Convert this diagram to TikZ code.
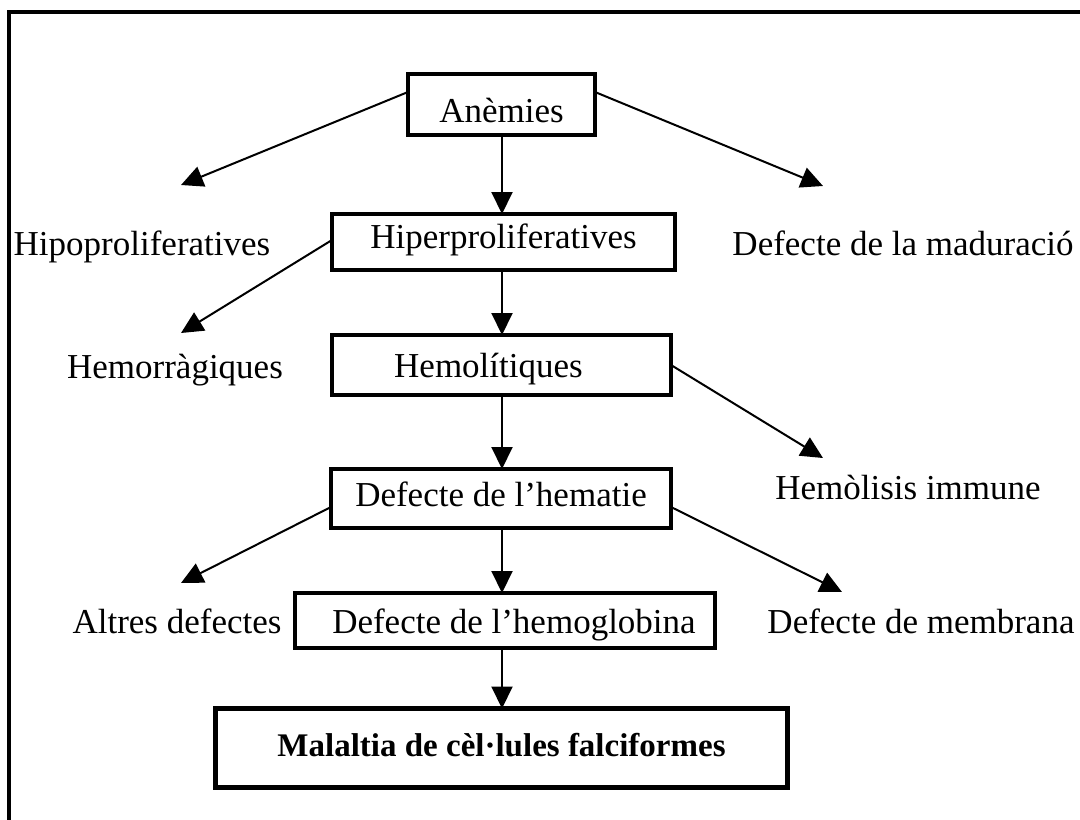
\documentclass[tikz,border=0pt]{standalone}
\usepackage{fontspec}
\setmainfont{Liberation Serif}
\usetikzlibrary{arrows.meta}

\tikzset{
  box/.style={draw, line width=4pt, inner sep=0pt, outer sep=0pt, align=center,
              text height=25pt, text depth=10pt,
              font=\fontsize{35}{40}\selectfont},
  plain/.style={anchor=base, inner sep=0pt, font=\fontsize{35}{40}\selectfont},
  link/.style={line width=2pt, -{Triangle[length=22pt, width=21pt]}},
  frame/.style={line width=4pt}
}

\begin{document}
\begin{tikzpicture}[x=1pt, y=-1pt]
  \useasboundingbox (0,0) rectangle (1080,820);
  \clip (0,0) rectangle (1080,820);

  % open frame: left and top sides only
  \coordinate (fbl) at (9,830);
  \coordinate (ftl) at (9,12);
  \coordinate (ftr) at (1090,12);
  \draw[frame] (fbl) -- (ftl) -- (ftr);

  % boxes of the main chain
  \node[box, minimum width=187pt, minimum height=61pt, text height=35pt, text depth=0pt]
    (anem) at (501.5,104.5) {Anèmies};
  \node[box, minimum width=343pt, minimum height=56pt, text height=22pt, text depth=10pt]
    (hiper) at (503.5,242) {Hiperproliferatives};
  \node[box, minimum width=339pt, minimum height=60pt, text height=30pt, text depth=5pt]
    (hemol) at (501.5,365) {Hemolítiques\hspace*{26pt}};
  \node[box, minimum width=340pt, minimum height=59pt]
    (hemat) at (501,498.5) {Defecte de l’hematie};
  \node[box, minimum width=420pt, minimum height=55pt, text height=30pt, text depth=5pt]
    (hemog) at (505,620.5) {\hspace*{18pt}Defecte de l’hemoglobina};
  \node[box, line width=5pt, minimum width=572pt, minimum height=79pt,
        text height=24pt, text depth=8pt,
        font=\fontsize{33}{38}\selectfont\bfseries] (falc) at (501.5,748) {Malaltia de cèl·lules falciformes};

  % side categories
  \node[plain] (hipo) at (142,255) {Hipoproliferatives};
  \node[plain] (madu) at (903,255) {Defecte de la maduració};
  \node[plain] (hemor) at (175,378) {Hemorràgiques};
  \node[plain] (immu) at (908,499) {Hemòlisis immune};
  \node[plain] (altr) at (177,633) {Altres defectes};
  \node[plain] (memb) at (921,633) {Defecte de membrana};

  % arrow tips of the side branches
  \coordinate (tHipo) at (181,185);
  \coordinate (tMadu) at (823,186);
  \coordinate (tHemor) at (181,333);
  \coordinate (tImmu) at (823,458);
  \coordinate (tAltr) at (181,583);
  \coordinate (tMemb) at (842,592);

  % side branches
  \draw[link] (anem.west |- 0,92) -- (tHipo);
  \draw[link] (anem.east |- 0,92) -- (tMadu);
  \draw[link] (hiper.west |- 0,240) -- (tHemor);
  \draw[link] (hemol.east |- 0,365) -- (tImmu);
  \draw[link] (hemat.west |- 0,507) -- (tAltr);
  \draw[link] (hemat.east |- 0,507) -- (tMemb);

  % main chain
  \draw[link] (anem.south -| 502,0) -- (hiper.north -| 502,0);
  \draw[link] (hiper.south -| 502,0) -- (hemol.north -| 502,0);
  \draw[link] (hemol.south -| 502,0) -- (hemat.north -| 502,0);
  \draw[link] (hemat.south -| 502,0) -- (hemog.north -| 502,0);
  \draw[link] (hemog.south -| 502,0) -- (falc.north -| 502,0);
\end{tikzpicture}
\end{document}
